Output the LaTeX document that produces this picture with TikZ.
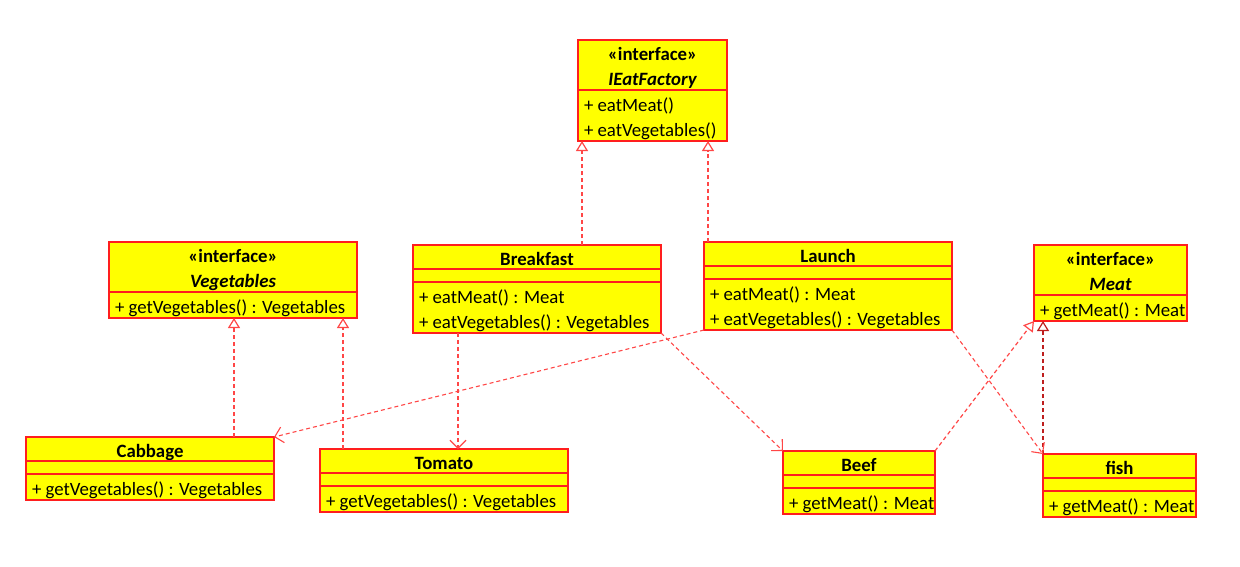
\documentclass[tikz,border=0pt]{standalone}
\usepackage{fontspec}
\setmainfont{Carlito}
\usetikzlibrary{arrows.meta,calc}
\definecolor{boxred}{RGB}{255,30,30}
\definecolor{linkred}{RGB}{255,70,70}
\definecolor{darklink}{RGB}{190,30,30}
\definecolor{umlyellow}{RGB}{255,255,0}
\newcommand\umlfont{\fontsize{18.8}{25}\selectfont}
\tikzset{
  box/.style={draw=boxred, fill=umlyellow, line width=1.3pt, inner sep=0pt, outer sep=0pt, anchor=north west},
  divider/.style={draw=boxred, line width=1.3pt},
  txt/.style={inner sep=0pt, outer sep=0pt, font=\umlfont},
  titletxt/.style={inner sep=0pt, outer sep=0pt, anchor=base, font={\umlfont\bfseries}},
  ifacetxt/.style={inner sep=0pt, outer sep=0pt, anchor=base, font={\umlfont\bfseries\itshape}},
  methodtxt/.style={txt, anchor=base west},
  realize/.style={draw=linkred, line width=1.2pt, dash pattern=on 4pt off 3pt, -{Triangle[length=10pt, width=12pt, fill=white]}},
  depend/.style={draw=linkred, line width=1.1pt, dash pattern=on 4pt off 3pt, -{Straight Barb[length=8pt, width=16pt]}},
}
% name, x, y, width, height, interface name
\newcommand\IfaceBox[6]{%
  \node[box, minimum width=#4pt, minimum height=#5pt] (#1) at (#2,#3) {};
  \node[titletxt] (#1st) at ($(#1.north)+(0,20)$) {«interface»};
  \node[ifacetxt] (#1nm) at ($(#1.north)+(0,45)$) {#6};
  \draw[divider] ($(#1.north west)+(0,50)$) -- ($(#1.north east)+(0,50)$);
}
% name, x, y, width, height, class name
\newcommand\ClassBox[6]{%
  \node[box, minimum width=#4pt, minimum height=#5pt] (#1) at (#2,#3) {};
  \node[titletxt] (#1nm) at ($(#1.north)+(0,20)$) {#6};
  \draw[divider] ($(#1.north west)+(0,24)$) -- ($(#1.north east)+(0,24)$);
  \draw[divider] ($(#1.north west)+(0,37)$) -- ($(#1.north east)+(0,37)$);
}
\begin{document}
\begin{tikzpicture}[x=1pt, y=-1pt]
\useasboundingbox (0,0) rectangle (1240,566);

% interfaces
\IfaceBox{ief}{578}{40}{149}{101}{IEatFactory}
\node[methodtxt] (iefm1) at ($(ief.north west)+(6,71)$) {+ eatMeat()};
\node[methodtxt] (iefm2) at ($(ief.north west)+(6,96)$) {+ eatVegetables()};

\IfaceBox{veg}{109}{242}{248}{76}{Vegetables}
\node[methodtxt] (vegm1) at ($(veg.north west)+(6,71)$) {+ getVegetables() : Vegetables};

\IfaceBox{meat}{1034}{245}{153}{76}{Meat}
\node[methodtxt] (meatm1) at ($(meat.north west)+(6,71)$) {+ getMeat() : Meat};

% classes
\ClassBox{brk}{413}{245}{248}{88}{Breakfast}
\node[methodtxt] (brkm1) at ($(brk.north west)+(6,58)$) {+ eatMeat() : Meat};
\node[methodtxt] (brkm2) at ($(brk.north west)+(6,83)$) {+ eatVegetables() : Vegetables};

\ClassBox{lau}{704}{242}{248}{88}{Launch}
\node[methodtxt] (laum1) at ($(lau.north west)+(6,58)$) {+ eatMeat() : Meat};
\node[methodtxt] (laum2) at ($(lau.north west)+(6,83)$) {+ eatVegetables() : Vegetables};

\ClassBox{cab}{26}{437}{248}{63}{Cabbage}
\node[methodtxt] (cabm1) at ($(cab.north west)+(6,58)$) {+ getVegetables() : Vegetables};

\ClassBox{tom}{320}{449}{248}{63}{Tomato}
\node[methodtxt] (tomm1) at ($(tom.north west)+(6,58)$) {+ getVegetables() : Vegetables};

\ClassBox{beef}{783}{451}{152}{63}{Beef}
\node[methodtxt] (beefm1) at ($(beef.north west)+(6,58)$) {+ getMeat() : Meat};

\ClassBox{fish}{1043}{454}{153}{63}{fish}
\node[methodtxt] (fishm1) at ($(fish.north west)+(6,58)$) {+ getMeat() : Meat};

% x guides
\coordinate (gx582) at (582,0);
\coordinate (gx708) at (708,0);
\coordinate (gx234) at (234,0);
\coordinate (gx343) at (343,0);
\coordinate (gx458) at (458,0);

% realizations
\draw[realize] (brk.north -| gx582) -- (ief.south -| gx582);
\draw[realize] (lau.north -| gx708) -- (ief.south -| gx708);
\draw[realize] (cab.north -| gx234) -- (veg.south -| gx234);
\draw[realize] (tom.north -| gx343) -- (veg.south -| gx343);
\draw[realize] (beef.north east) -- (meat.south west);
\draw[realize, draw=darklink] (fish.north west) -- (meat.south -| fish.north west);

% dependencies
\draw[depend] (brk.south -| gx458) -- (tom.north -| gx458);
\draw[depend] (lau.south west) -- (cab.north east);
\draw[depend] (brk.south east) -- (beef.north west);
\draw[depend] (lau.south east) -- (fish.north west);
\end{tikzpicture}
\end{document}
